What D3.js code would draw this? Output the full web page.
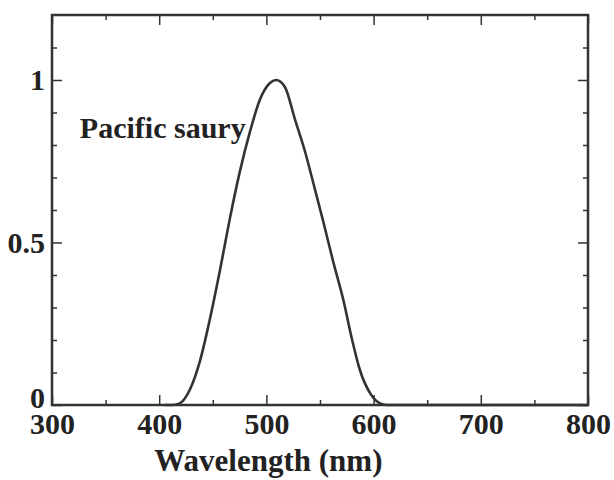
<!DOCTYPE html>
<html>
<head>
<meta charset="utf-8">
<script src="https://cdn.jsdelivr.net/npm/d3@7"></script>
<style>
  body { margin: 0; background: #fff; }
</style>
</head>
<body>
<div id="graphic"></div>
<script>
// values
var wavelength = [405, 412, 419, 429, 438, 447, 457, 466, 475, 485, 494, 503, 509,
                  517, 527, 536, 544, 553, 562, 572, 580, 587, 597, 606, 612, 800];
var response = [0, 0, 0.005, 0.05, 0.135, 0.26, 0.42, 0.575, 0.715, 0.845, 0.94, 0.99, 1.0,
                0.98, 0.875, 0.78, 0.68, 0.565, 0.445, 0.32, 0.2, 0.11, 0.035, 0.005, 0, 0];
var xTicks = [300, 400, 500, 600, 700, 800];
var xMinor = [350, 450, 550, 650, 750];
var yTicks = [0, 0.5, 1];
var yMinor = [0.1, 0.2, 0.3, 0.4, 0.6, 0.7, 0.8, 0.9, 1.1];
var seriesLabel = "Pacific saury";
var xTitle = "Wavelength (nm)";

var W = 614, H = 480;
var margin = {top: 15, right: 26, bottom: 75, left: 52},
    width = W - margin.left - margin.right,
    height = H - margin.top - margin.bottom;

var serif = '"Liberation Serif", "DejaVu Serif", "Times New Roman", serif';
var ink = "#333";

var x = d3.scaleLinear().domain([300, 800]).range([0, width]);
var y = d3.scaleLinear().domain([0, 1.2]).range([height, 0]);

var svg = d3.select("#graphic").append("svg")
    .attr("width", W).attr("height", H)
  .append("g")
    .attr("transform", "translate(" + margin.left + "," + margin.top + ")");

function styleAxis(g) {
  g.attr("font-family", serif);
  g.select(".domain").remove();
  g.selectAll("line").attr("stroke", ink).attr("stroke-width", 1.5);
  g.selectAll("text")
    .style("font-family", serif)
    .style("font-weight", "bold")
    .attr("font-size", 30)
    .attr("fill", "#222");
}

// bottom axis, ticks pointing inward
svg.append("g")
    .attr("transform", "translate(0," + height + ")")
    .call(d3.axisBottom(x).tickValues(xTicks).tickSize(-10).tickPadding(7).tickFormat(d3.format("d")))
    .call(styleAxis)
    .call(g => g.selectAll("text").attr("dy", "0.72em"));
svg.append("g")
    .attr("transform", "translate(0," + height + ")")
    .call(d3.axisBottom(x).tickValues(xMinor).tickSize(-5).tickFormat(""))
    .call(styleAxis);

// top axis
svg.append("g")
    .call(d3.axisTop(x).tickValues(xTicks).tickSize(-10).tickFormat(""))
    .call(styleAxis);
svg.append("g")
    .call(d3.axisTop(x).tickValues(xMinor).tickSize(-5).tickFormat(""))
    .call(styleAxis);

// left axis
svg.append("g")
    .call(d3.axisLeft(y).tickValues(yTicks).tickSize(-10).tickPadding(7).tickFormat(d3.format("~g")))
    .call(styleAxis)
    .call(g => g.selectAll("text").attr("dy", d => d === 0 ? "0.08em" : "0.33em"));
svg.append("g")
    .call(d3.axisLeft(y).tickValues(yMinor).tickSize(-5).tickFormat(""))
    .call(styleAxis);

// right axis
svg.append("g")
    .attr("transform", "translate(" + width + ",0)")
    .call(d3.axisRight(y).tickValues(yTicks).tickSize(-10).tickFormat(""))
    .call(styleAxis);
svg.append("g")
    .attr("transform", "translate(" + width + ",0)")
    .call(d3.axisRight(y).tickValues(yMinor).tickSize(-5).tickFormat(""))
    .call(styleAxis);

// frame
svg.append("rect")
    .attr("width", width).attr("height", height)
    .attr("fill", "none").attr("stroke", ink).attr("stroke-width", 2.5);

// curve
var pts = wavelength.map((w, i) => [w, response[i]]);
svg.append("path")
    .datum(pts)
    .attr("fill", "none")
    .attr("stroke", ink)
    .attr("stroke-width", 2.6)
    .attr("d", d3.line()
      .x(d => x(d[0]))
      .y(d => y(d[1]))
      .curve(d3.curveMonotoneX));

// series label
svg.append("text")
    .attr("x", x(326))
    .attr("y", y(0.822))
    .style("font-family", serif)
    .style("font-weight", "bold")
    .attr("font-size", 30)
    .attr("fill", "#222")
    .text(seriesLabel);

// x title
svg.append("text")
    .attr("x", x(500) + 2)
    .attr("y", height + 66)
    .attr("text-anchor", "middle")
    .style("font-family", serif)
    .style("font-weight", "bold")
    .attr("font-size", 31)
    .attr("fill", "#222")
    .text(xTitle);
</script>
</body>
</html>
